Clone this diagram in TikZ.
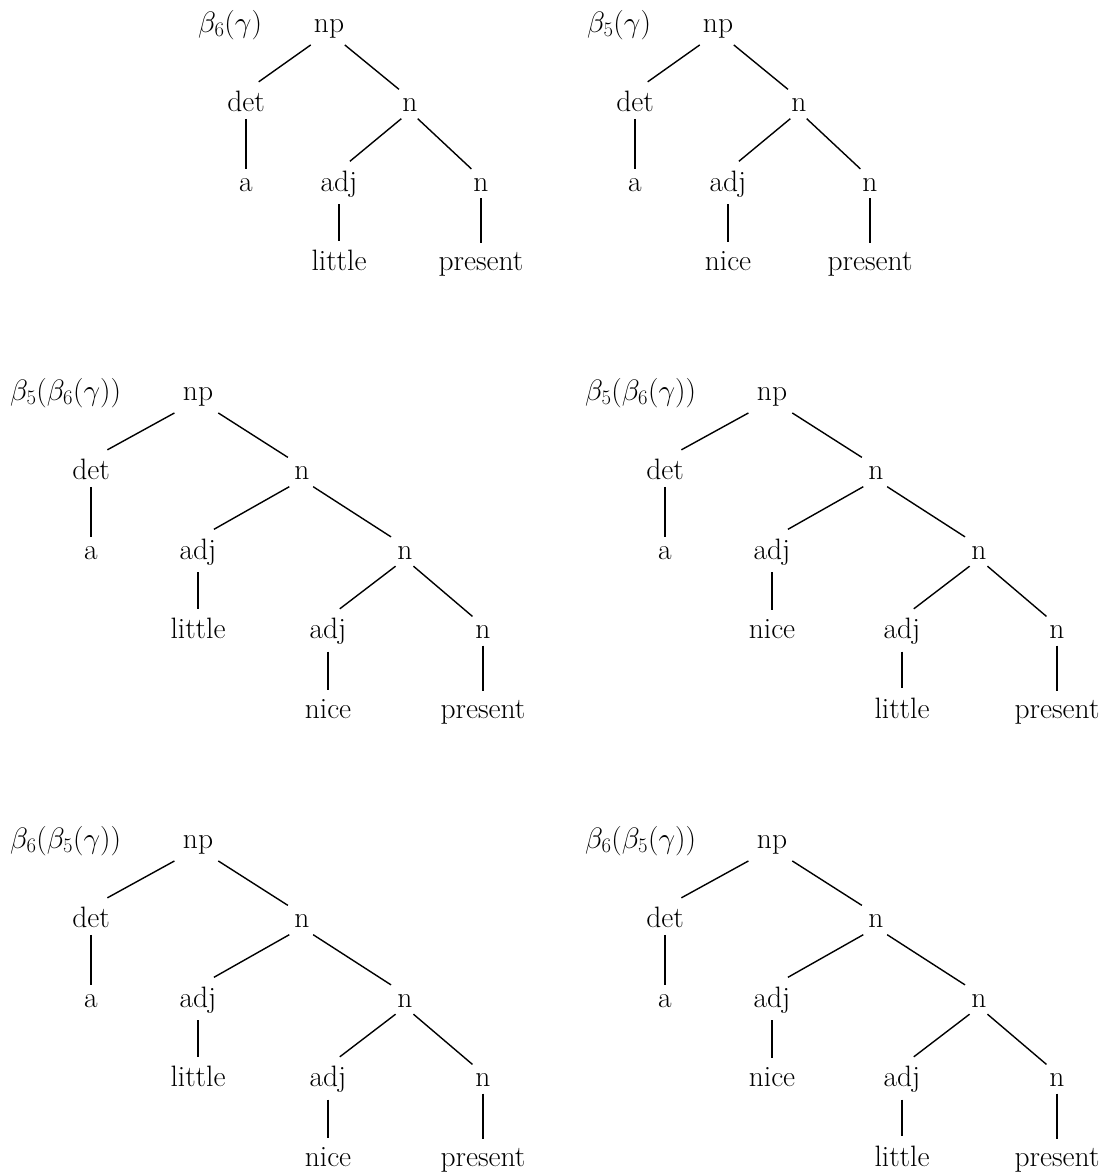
\documentclass[tikz,border=0pt]{standalone}
\usepackage{fix-cm}
\usetikzlibrary{calc}
\tikzset{
  lbl/.style={font=\fontsize{29.5}{35}\selectfont, inner sep=0pt, anchor=base},
  ttl/.style={font=\fontsize{29.5}{35}\selectfont, inner sep=0pt, anchor=base west},
  edge/.style={line width=1.4pt}
}
% connector: along the line from parent's baseline centre to child's top centre, cut short at both ends
\newcommand\conn[2]{%
  \draw[edge] let \p1=(#1.base), \p2=(#2.north), \p3=(#1.south),
    \n1={veclen(\x2-\x1,\y2-\y1)} in
    ($(\p1)!{(\y1-\y3+7pt)*\n1/(\y1-\y2)}!(\p2)$) -- ($(\p2)!{9pt*\n1/(\y1-\y2)}!(\p1)$);%
}
% small tree: #1 prefix, #2 np x, #3 top baseline, #4 label, #5 label x, #6 adjective
\newcommand\mytreeA[6]{%
  \node[ttl] (#1lab) at (#5,#3) {#4};
  \node[lbl] (#1np) at (#2,#3) {np};
  \node[lbl] (#1det) at ({#2-83},{#3+79.5}) {det};
  \node[lbl] (#1n) at ({#2+81},{#3+79.5}) {n};
  \node[lbl] (#1a) at ({#2-83},{#3+159}) {a};
  \node[lbl] (#1adj) at ({#2+10},{#3+159}) {adj};
  \node[lbl] (#1nn) at ({#2+152},{#3+159}) {n};
  \node[lbl] (#1w) at ({#2+10},{#3+238.5}) {#6};
  \node[lbl] (#1p) at ({#2+152},{#3+238.5}) {present};
  \conn{#1np}{#1det}
  \conn{#1np}{#1n}
  \conn{#1det}{#1a}
  \conn{#1n}{#1adj}
  \conn{#1n}{#1nn}
  \conn{#1adj}{#1w}
  \conn{#1nn}{#1p}
}
% big tree: #1 prefix, #2 np x, #3 top baseline, #4 label, #5 label x, #6 word 1, #7 word 2
\newcommand\mytreeB[7]{%
  \node[ttl] (#1lab) at (#5,#3) {#4};
  \node[lbl] (#1np) at (#2,#3) {np};
  \node[lbl] (#1det) at ({#2-107},{#3+79.5}) {det};
  \node[lbl] (#1n) at ({#2+104},{#3+79.5}) {n};
  \node[lbl] (#1a) at ({#2-107},{#3+159}) {a};
  \node[lbl] (#1adj) at ({#2},{#3+159}) {adj};
  \node[lbl] (#1nn) at ({#2+207},{#3+159}) {n};
  \node[lbl] (#1w) at ({#2},{#3+238.5}) {#6};
  \node[lbl] (#1adjb) at ({#2+130},{#3+238.5}) {adj};
  \node[lbl] (#1nnn) at ({#2+285},{#3+238.5}) {n};
  \node[lbl] (#1wb) at ({#2+130},{#3+318}) {#7};
  \node[lbl] (#1p) at ({#2+285},{#3+318}) {present};
  \conn{#1np}{#1det}
  \conn{#1np}{#1n}
  \conn{#1det}{#1a}
  \conn{#1n}{#1adj}
  \conn{#1n}{#1nn}
  \conn{#1adj}{#1w}
  \conn{#1nn}{#1adjb}
  \conn{#1nn}{#1nnn}
  \conn{#1adjb}{#1wb}
  \conn{#1nnn}{#1p}
}
\begin{document}
\begin{tikzpicture}[x=1pt,y=-1pt]
\useasboundingbox (0,0) rectangle (1109,1173);
\mytreeA{ta}{329}{32}{$\beta_6(\gamma)$}{198}{little}
\mytreeA{tb}{718}{32}{$\beta_5(\gamma)$}{587}{nice}
\mytreeB{tc}{198}{400}{$\beta_5(\beta_6(\gamma))$}{10}{little}{nice}
\mytreeB{td}{772}{400}{$\beta_5(\beta_6(\gamma))$}{585}{nice}{little}
\mytreeB{te}{198}{848}{$\beta_6(\beta_5(\gamma))$}{10}{little}{nice}
\mytreeB{tf}{772}{848}{$\beta_6(\beta_5(\gamma))$}{585}{nice}{little}
\end{tikzpicture}
\end{document}
